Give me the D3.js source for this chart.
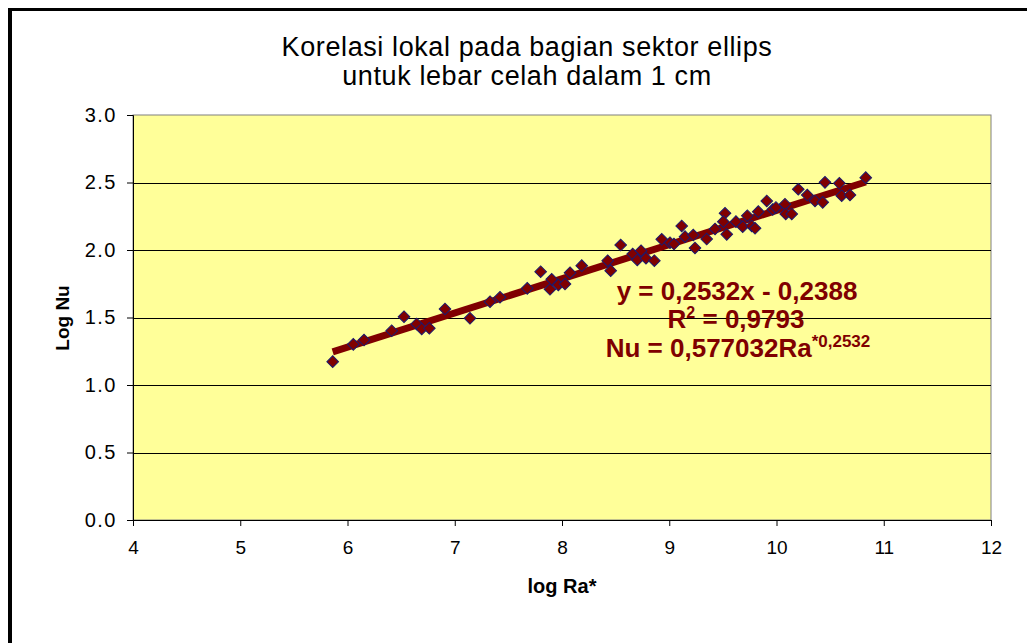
<!DOCTYPE html>
<html><head><meta charset="utf-8">
<script src="https://cdn.jsdelivr.net/npm/d3@7/dist/d3.min.js"></script>
<style>body{margin:0;background:#fff;} text{font-family:"Liberation Sans",Arial,sans-serif;}</style>
</head><body>
<svg id="c" width="1027" height="643"></svg>
<script>
const logRa = [5.862,6.054,6.154,6.412,6.527,6.645,6.692,6.763,6.909,7.142,7.329,7.422,7.676,7.801,7.888,7.904,7.966,8.028,8.075,8.184,8.426,8.454,8.547,8.659,8.702,8.737,8.783,8.861,8.930,9.007,9.044,9.116,9.147,9.224,9.240,9.349,9.427,9.520,9.504,9.536,9.622,9.685,9.728,9.769,9.800,9.830,9.909,9.965,9.995,10.079,10.086,10.142,10.203,10.287,10.359,10.431,10.452,10.586,10.608,10.685,10.832];
const logNu = [1.173,1.301,1.333,1.402,1.506,1.452,1.415,1.420,1.563,1.494,1.617,1.650,1.716,1.839,1.709,1.783,1.741,1.748,1.832,1.884,1.921,1.847,2.037,1.970,1.926,1.995,1.939,1.921,2.079,2.054,2.044,2.178,2.099,2.111,2.015,2.081,2.156,2.272,2.210,2.116,2.210,2.173,2.254,2.178,2.161,2.284,2.363,2.300,2.315,2.339,2.267,2.267,2.450,2.407,2.363,2.353,2.501,2.494,2.402,2.407,2.536];
const slope = 0.2532, intercept = -0.2388;
const xTicks = [4,5,6,7,8,9,10,11,12];
const yTicks = [0,0.5,1,1.5,2,2.5,3];
const titleLines = ["Korelasi lokal pada bagian sektor ellips","untuk lebar celah dalam 1 cm"];

const svg = d3.select("#c");
const L=133,R=991,T=115,B=520;
const x = d3.scaleLinear().domain([4,12]).range([L,R]);
const y = d3.scaleLinear().domain([0,3]).range([B,T]);

// chart frame (top & left)
svg.append("line").attr("x1",8).attr("x2",1027).attr("y1",9.5).attr("y2",9.5).attr("stroke","#000").attr("stroke-width",3);
svg.append("line").attr("x1",10).attr("x2",10).attr("y1",8).attr("y2",643).attr("stroke","#000").attr("stroke-width",4);

// plot area
svg.append("rect").attr("x",L).attr("y",T).attr("width",R-L).attr("height",B-T).attr("fill","#FFFF99").attr("stroke","#808080").attr("stroke-width",1);
// gridlines
svg.append("g").selectAll("line").data(yTicks.filter(d=>d>0&&d<3)).join("line")
  .attr("x1",L).attr("x2",R).attr("y1",d=>Math.round(y(d))+0.5).attr("y2",d=>Math.round(y(d))+0.5)
  .attr("stroke","#000").attr("stroke-width",1);

// axes
const yAxis = svg.append("g").attr("transform",`translate(${L},0)`)
  .call(d3.axisLeft(y).tickValues(yTicks).tickFormat(d3.format(".1f")).tickSize(6).tickPadding(10));
const xAxis = svg.append("g").attr("transform",`translate(0,${B})`)
  .call(d3.axisBottom(x).tickValues(xTicks).tickFormat(d3.format("d")).tickSize(6).tickPadding(15));
[yAxis,xAxis].forEach(a=>{
  a.select(".domain").attr("stroke","#000");
  a.selectAll(".tick line").attr("stroke","#000");
  a.selectAll("text").attr("fill","#000").style("font-size","19px").style("font-family","Liberation Sans, Arial, sans-serif");
});
yAxis.selectAll("text").style("font-size","20px").style("letter-spacing","1.5px");

// trendline
const x0 = d3.min(logRa), x1 = d3.max(logRa);
svg.append("line").attr("x1",x(x0)).attr("y1",y(slope*x0+intercept)).attr("x2",x(x1)).attr("y2",y(slope*x1+intercept))
  .attr("stroke","#800000").attr("stroke-width",7);

// points
const sq = d3.symbol().type(d3.symbolSquare).size(68);
svg.append("g").selectAll("path").data(logRa.map((d,i)=>[d,logNu[i]])).join("path")
  .attr("d",sq).attr("transform",d=>`translate(${x(d[0])},${y(d[1])}) rotate(45)`)
  .attr("fill","#800000").attr("stroke","#1a1a70").attr("stroke-width",1);

// title
svg.append("text").attr("x",527).attr("y",0).attr("text-anchor","middle").style("font-size","27px").style("letter-spacing","0.6px").attr("fill","#000")
  .selectAll("tspan").data(titleLines).join("tspan").attr("x",527).attr("y",(d,i)=>56+i*29).text(d=>d);

// axis titles
svg.append("text").attr("x",562).attr("y",593).attr("text-anchor","middle").style("font-size","20px").style("font-weight","bold").text("log Ra*");
svg.append("text").attr("transform","translate(69,318) rotate(-90)").attr("text-anchor","middle").style("font-size","19px").style("font-weight","bold").text("Log Nu");

// equation
const eq = svg.append("g").attr("fill","#800000").style("font-weight","bold").style("font-size","26px");
eq.append("text").attr("x",737).attr("y",300).attr("text-anchor","middle").text("y = 0,2532x - 0,2388");
const r2 = eq.append("text").attr("x",736).attr("y",328).attr("text-anchor","middle");
r2.append("tspan").text("R");
r2.append("tspan").attr("dy",-10).style("font-size","16px").text("2");
r2.append("tspan").attr("dy",10).text(" = 0,9793");
const nu = eq.append("text").attr("x",738).attr("y",357).attr("text-anchor","middle");
nu.append("tspan").text("Nu = 0,577032Ra");
nu.append("tspan").attr("dy",-10).style("font-size","17px").text("*0,2532");
</script>
</body></html>
